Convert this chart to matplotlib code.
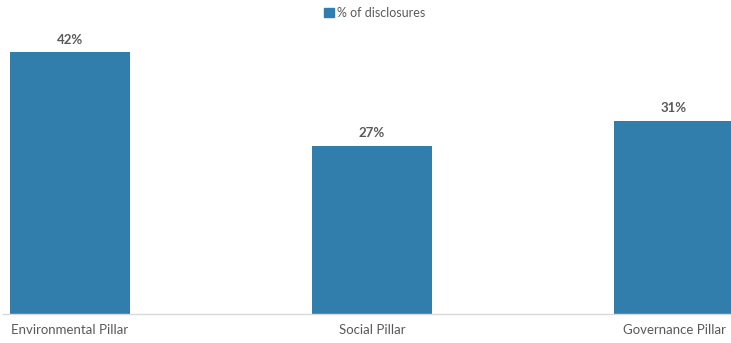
import matplotlib
matplotlib.use("Agg")
import matplotlib.pyplot as plt
from matplotlib.patches import Patch

categories = ["Environmental Pillar", "Social Pillar", "Governance Pillar"]
values = [42, 27, 31]
series_name = "% of disclosures"

bar_color = "#317EAC"
text_color = "#595959"
font = ["Lato", "DejaVu Sans"]

W, H = 731, 343
fig = plt.figure(figsize=(W / 100, H / 100), dpi=100)

# axes placed in pixel units: baseline at y=314 from top, plotting area top at y=30
left_px, right_px, top_px, base_px = 3, 731, 30, 314
ax = fig.add_axes([left_px / W, (H - base_px) / H,
                   (right_px - left_px) / W, (base_px - top_px) / H])

x = list(range(len(categories)))
ax.bar(x, values, width=0.4, color=bar_color, zorder=2)

# category spacing of 302 px, first centre at 70 px
step = 302
ax.set_xlim((left_px - 70) / step, (right_px - 70) / step)
ax.set_ylim(0, 42 * (base_px - top_px) / (base_px - 52))

for xi, v in zip(x, values):
    ax.annotate(f"{v}%", (xi, v), xytext=(0, 4.5), textcoords="offset points",
                ha="center", va="bottom", fontsize=9.5, fontweight="bold",
                color=text_color, family=font)

ax.set_xticks(x)
ax.set_xticklabels(categories, family=font, fontsize=9.5, color=text_color)
ax.tick_params(axis="x", length=0, pad=7)
ax.set_yticks([])
for s in ("top", "right", "left"):
    ax.spines[s].set_visible(False)
ax.spines["bottom"].set_color("#D9D9D9")
ax.spines["bottom"].set_linewidth(1)

leg = fig.legend(handles=[Patch(color=bar_color, label=series_name)],
                 loc="center", bbox_to_anchor=(375 / W, 1 - 13 / H), frameon=False,
                 handlelength=0.8, handleheight=0.8, handletextpad=0.25,
                 prop={"family": font, "size": 9})
for t in leg.get_texts():
    t.set_color(text_color)

fig.savefig("out.png", dpi=100)
